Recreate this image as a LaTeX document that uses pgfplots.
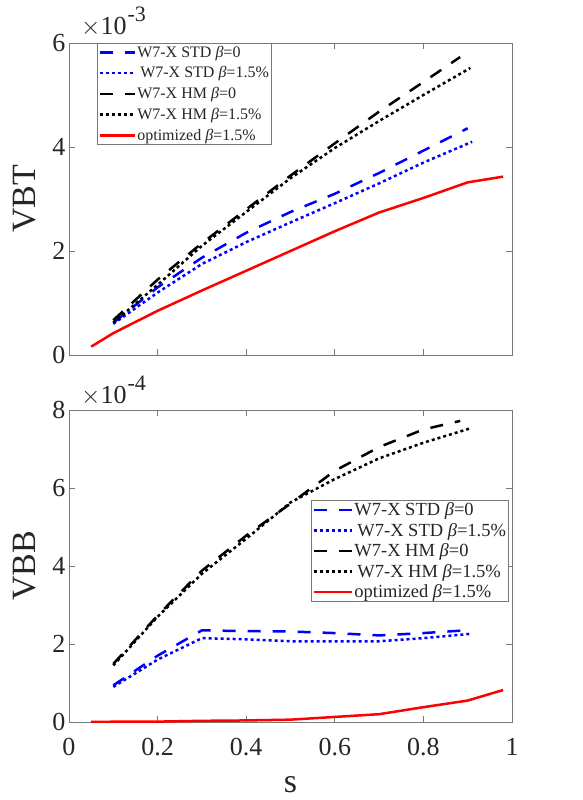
\documentclass[border=0pt]{standalone}
\usepackage{fontspec}
\setmainfont{Liberation Serif}
\usepackage{pgfplots}
\pgfplotsset{compat=1.18}
\definecolor{axgray}{RGB}{120,120,120}
\definecolor{txtgray}{RGB}{38,38,38}
\pgfplotsset{
 myax/.style={
  scale only axis, width=443pt, height=312pt,
  xmin=0, xmax=1,
  xtick={0,0.2,0.4,0.6,0.8,1},
  scaled y ticks=false, scaled x ticks=false,
  tick align=inside, xtick pos=both, ytick pos=both,
  major tick length=6pt,
  axis line style={axgray, line width=0.8pt},
  every tick/.style={axgray, line width=0.8pt},
  tick label style={font=\fontsize{26}{26}\selectfont, text=txtgray},
  xticklabel style={yshift=-13pt},
  /pgf/number format/assume math mode=true,
  label style={font=\fontsize{34}{34}\selectfont, text=txtgray},
  ylabel style={at={(axis description cs:-0.1,0.5)}, anchor=center},
  legend style={draw=axgray, line width=0.8pt, inner sep=1pt, text=txtgray, fill=white,
    nodes={inner sep=1.5pt}},
  legend cell align=left,
 },
 stdz/.style={blue, line width=2.5pt, dash pattern=on 13pt off 12pt},
 stdf/.style={blue, line width=2.5pt, dash pattern=on 3pt off 3pt},
 hmz/.style={black, line width=2.5pt, dash pattern=on 13pt off 12pt},
 hmf/.style={black, line width=2.5pt, dash pattern=on 3pt off 3pt},
 opt/.style={red, line width=2.5pt},
}
\newcommand{\scl}[1]{{\fontsize{26}{26}\selectfont$\times$10\hspace{1pt}\makebox[0pt][l]{\raisebox{13pt}{\fontsize{22}{22}\selectfont #1}}}}
\begin{document}
\begin{tikzpicture}
\path[use as bounding box] (-69pt,-78pt) rectangle (514pt,722pt);
\begin{axis}[myax, name=top, at={(0pt,367pt)}, anchor=south west,
  ymin=0, ymax=0.006, ytick={0,0.002,0.004,0.006}, yticklabels={0,2,4,6},
  xticklabels={}, ylabel={VBT},
  legend style={at={(0.063,1)}, anchor=north west, font=\fontsize{16}{18}\selectfont, row sep=5pt},
  legend image code/.code={\draw[#1] (0pt,0pt) -- (35pt,0pt);}]
\addplot[stdz] coordinates {(0.1,0.00062) (0.2,0.0013) (0.3,0.00187) (0.4,0.00235) (0.5,0.00275) (0.6,0.0031) (0.7,0.0035) (0.8,0.00393) (0.9,0.00436)};
\addlegendentry{W7-X STD \textit{β}=0}
\addplot[stdf] coordinates {(0.1,0.0006) (0.2,0.0012) (0.3,0.00175) (0.4,0.00217) (0.5,0.00255) (0.6,0.00292) (0.7,0.0033) (0.8,0.0037) (0.91,0.0041)};
\addlegendentry{\hspace{3pt}W7-X STD \textit{β}=1.5\%}
\addplot[hmz] coordinates {(0.1,0.00067) (0.2,0.00145) (0.3,0.00215) (0.4,0.0028) (0.5,0.00345) (0.6,0.00407) (0.7,0.00468) (0.8,0.00525) (0.883,0.00573)};
\addlegendentry{W7-X HM \textit{β}=0}
\addplot[hmf] coordinates {(0.1,0.00062) (0.2,0.00135) (0.3,0.0021) (0.4,0.00275) (0.5,0.0034) (0.6,0.00398) (0.7,0.0045) (0.8,0.005) (0.906,0.00552)};
\addlegendentry{W7-X HM \textit{β}=1.5\%}
\addplot[opt] coordinates {(0.05,0.00016) (0.1,0.00042) (0.2,0.00085) (0.3,0.00124) (0.4,0.00162) (0.5,0.002) (0.6,0.00238) (0.7,0.00274) (0.8,0.00302) (0.9,0.00332) (0.98,0.00343)};
\addlegendentry{optimized \textit{β}=1.5\%}
\end{axis}
\begin{axis}[myax, name=bot, at={(0pt,0pt)}, anchor=south west,
  ymin=0, ymax=0.0008, ytick={0,0.0002,0.0004,0.0006,0.0008}, yticklabels={0,2,4,6,8},
  xticklabels={0,0.2,0.4,0.6,0.8,1}, ylabel={VBB}, xlabel={s},
  xlabel style={at={(axis description cs:0.5,-0.2)}, anchor=center},
  legend style={at={(0.993,0.712)}, anchor=north east, font=\fontsize{18.5}{20}\selectfont, row sep=3pt},
  legend image code/.code={\draw[#1] (0pt,0pt) -- (38pt,0pt);}]
\addplot[stdz] coordinates {(0.1,0.000094) (0.2,0.00017) (0.3,0.000235) (0.4,0.000233) (0.5,0.000232) (0.6,0.000228) (0.7,0.000222) (0.8,0.000228) (0.895,0.000235)};
\addlegendentry{W7-X STD \textit{β}=0}
\addplot[stdf] coordinates {(0.1,0.00009) (0.2,0.00016) (0.3,0.000215) (0.4,0.000212) (0.5,0.000207) (0.6,0.000207) (0.7,0.000207) (0.8,0.000215) (0.906,0.000226)};
\addlegendentry{\hspace{3pt}W7-X STD \textit{β}=1.5\%}
\addplot[hmz] coordinates {(0.1,0.000149) (0.2,0.000273) (0.3,0.000388) (0.4,0.000478) (0.5,0.00056) (0.6,0.000644) (0.7,0.000705) (0.8,0.00075) (0.883,0.000772)};
\addlegendentry{W7-X HM \textit{β}=0}
\addplot[hmf] coordinates {(0.1,0.000145) (0.2,0.00027) (0.3,0.00038) (0.4,0.00047) (0.5,0.000563) (0.6,0.000623) (0.7,0.000676) (0.8,0.000716) (0.906,0.000753)};
\addlegendentry{\hspace{3pt}W7-X HM \textit{β}=1.5\%}
\addplot[opt] coordinates {(0.05,0.0000005) (0.2,0.000001) (0.3,0.000003) (0.4,0.000004) (0.5,0.000006) (0.6,0.000013) (0.7,0.00002) (0.8,0.000038) (0.9,0.000055) (0.98,0.000082)};
\addlegendentry{optimized \textit{β}=1.5\%}
\end{axis}
\node[anchor=base west, inner sep=0pt, text=txtgray] at ([xshift=12pt,yshift=8pt]top.north west) {\scl{-3}};
\node[anchor=base west, inner sep=0pt, text=txtgray] at ([xshift=12pt,yshift=6pt]bot.north west) {\scl{-4}};
\end{tikzpicture}
\end{document}
